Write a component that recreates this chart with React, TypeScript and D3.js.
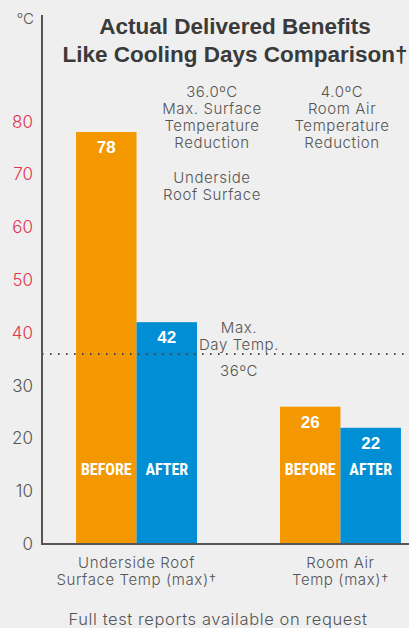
import * as d3 from 'd3';

const categories = ['Underside Roof\nSurface Temp (max)†', 'Room Air\nTemp (max)†'];
const series = ['BEFORE', 'AFTER'];
const beforeValues = [78, 26];
const afterValues = [42, 22];
const yTicks = [0, 10, 20, 30, 40, 50, 60, 70, 80];
const maxDayTemp = 36;
const reductionNotes = [
  ['36.0ºC', 'Max. Surface', 'Temperature', 'Reduction', '', 'Underside', 'Roof Surface'],
  ['4.0ºC', 'Room Air', 'Temperature', 'Reduction'],
];

const W = 409;
const H = 628;
const axisX = 42;
const baseY = 544;
const colors: Record<string, string> = { BEFORE: '#f39800', AFTER: '#008fd5' };
const grey = '#555';
const font = 'Inter, Roboto, sans-serif';
const titleFont = '"Liberation Sans", Arial, sans-serif';
const narrow = '"Liberation Sans Narrow", "Roboto Condensed", Roboto, sans-serif';

export default function App() {
  const y = d3.scaleLinear().domain([0, 80]).range([baseY, 121.5]);
  const x0 = d3.scaleBand().domain(categories).range([axisX, 435]).paddingInner(0.407).paddingOuter(0.167);
  const x1 = d3.scaleBand().domain(series).range([0, x0.bandwidth()]).padding(0);

  const rows = categories.map((c, i) => ({ cat: c, values: [beforeValues[i], afterValues[i]] }));

  return (
    <div style={{ position: 'fixed', left: 0, top: 0 }}>
      <svg width={W} height={H} style={{ display: 'block', background: '#efefef', fontFamily: font }}>
        {/* title */}
        <text x={235} y={34} textAnchor="middle" fontSize={22.5} fontWeight={700} fill="#3a3a3a" fontFamily={titleFont}>
          Actual Delivered Benefits
        </text>
        <text x={235} y={62} textAnchor="middle" fontSize={22.5} fontWeight={700} fill="#3a3a3a" fontFamily={titleFont}>
          Like Cooling Days Comparison†
        </text>
        <text x={34} y={24} textAnchor="end" fontSize={15} fill={grey} fontWeight={300}>°C</text>

        {/* annotations */}
        {reductionNotes.map((lines, i) => (
          <text key={i} x={i === 0 ? 212 : 342} y={97} textAnchor="middle" fontSize={15} fill={grey} fontWeight={300} letterSpacing={0.6}>
            {lines.map((l, j) => (
              <tspan key={j} x={i === 0 ? 212 : 342} dy={j === 0 ? 0 : j === 5 ? 35 : j === 4 ? 0 : 17}>{l}</tspan>
            ))}
          </text>
        ))}

        {/* bars */}
        {rows.map((r, i) => (
          <g key={i} transform={`translate(${x0(r.cat)},0)`}>
            {series.map((s, k) => {
              const v = r.values[k];
              const bx = x1(s)!;
              const bw = x1.bandwidth();
              return (
                <g key={s}>
                  <rect x={bx} y={y(v)} width={bw} height={baseY - y(v)} fill={colors[s]} />
                  <text x={bx + bw / 2} y={y(v) + 21} textAnchor="middle" fontSize={17} fontWeight={700} fill="#fff" fontFamily={titleFont}>{v}</text>
                  <text x={bx + bw / 2} y={475} textAnchor="middle" fontSize={16} fontWeight={700} fill="#fff" fontFamily={narrow}>{s}</text>
                </g>
              );
            })}
          </g>
        ))}

        {/* max day temp line */}
        <line x1={axisX} x2={W} y1={y(maxDayTemp)} y2={y(maxDayTemp)} stroke="#444" strokeWidth={2} strokeDasharray="1.5 6.5" />
        <text x={239} y={333} textAnchor="middle" fontSize={15} fill={grey} fontWeight={300} letterSpacing={0.6}>
          <tspan x={239} dy={0}>Max.</tspan>
          <tspan x={239} dy={17}>Day Temp.</tspan>
        </text>
        <text x={239} y={376} textAnchor="middle" fontSize={15} fill={grey} fontWeight={300} letterSpacing={0.6}>{maxDayTemp}ºC</text>

        {/* axes */}
        <line x1={axisX} x2={axisX} y1={15} y2={baseY + 1} stroke={grey} strokeWidth={2} />
        <line x1={axisX - 1} x2={W} y1={baseY} y2={baseY} stroke={grey} strokeWidth={2} />
        {yTicks.map(t => (
          <text key={t} x={33} y={y(t) + 6} textAnchor="end" fontSize={17} fontWeight={300} fill={t >= 40 ? '#e0334c' : grey}>{t}</text>
        ))}
        {categories.map(c => (
          <text key={c} x={x0(c)! + x0.bandwidth() / 2} y={568} textAnchor="middle" fontSize={15} fill={grey} fontWeight={300} letterSpacing={0.6}>
            {c.split('\n').map((l, j) => (
              <tspan key={j} x={x0(c)! + x0.bandwidth() / 2} dy={j === 0 ? 0 : 17}>{l}</tspan>
            ))}
          </text>
        ))}

        <text x={218} y={625} textAnchor="middle" fontSize={16.5} fill={grey} fontWeight={300} letterSpacing={0.6}>
          Full test reports available on request
        </text>
      </svg>
    </div>
  );
}
